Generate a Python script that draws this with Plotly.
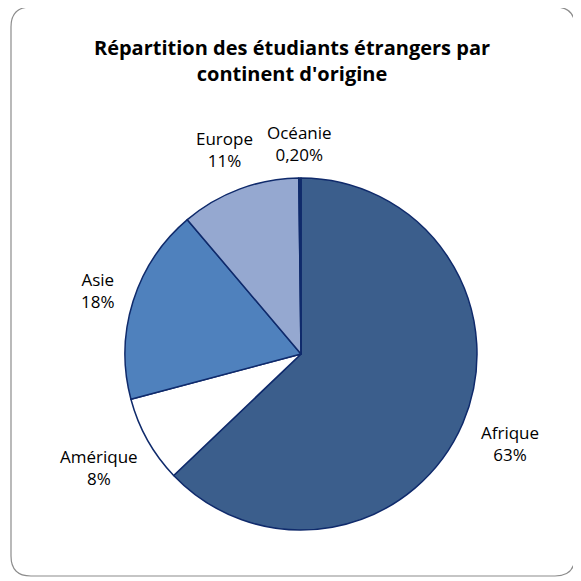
import math
import plotly.graph_objects as go

# the page body has an 8px margin, so the figure is drawn a bit smaller
OFF = 8
W = H = 573

continents = ["Afrique", "Amérique", "Asie", "Europe", "Océanie"]
shares = [63, 8, 18, 11, 0.2]
share_labels = ["63%", "8%", "18%", "11%", "0,20%"]
colors = ["#3B5E8C", "#FFFFFF", "#4F81BD", "#95A8D0", "#17306A"]

title = "Répartition des étudiants étrangers par<br>continent d'origine"
font = "'Open Sans', 'Liberation Sans', sans-serif"

# pie placement in screen pixels
cx, cy, r = 301, 354, 176
label_size = 17


def px_x(x):
    return (x - OFF) / W


def px_y(y):
    return 1 - (y - OFF) / H


def rounded_rect(x0, y0, x1, y1, rad):
    # path in paper coords for a rounded frame
    ax, bx = px_x(x0), px_x(x1)
    ay, by = px_y(y0), px_y(y1)
    rx, ry = rad / W, rad / H
    return (
        f"M {ax + rx},{ay} L {bx - rx},{ay} Q {bx},{ay} {bx},{ay - ry} "
        f"L {bx},{by + ry} Q {bx},{by} {bx - rx},{by} "
        f"L {ax + rx},{by} Q {ax},{by} {ax},{by + ry} "
        f"L {ax},{ay - ry} Q {ax},{ay} {ax + rx},{ay} Z"
    )


fig = go.Figure(
    go.Pie(
        labels=continents,
        values=shares,
        sort=False,
        direction="clockwise",
        rotation=0,
        marker=dict(colors=colors, line=dict(color="#0F2A6B", width=1.5)),
        textinfo="none",
        hoverinfo="label+percent",
        domain=dict(x=[px_x(cx - r), px_x(cx + r)], y=[px_y(cy + r), px_y(cy - r)]),
        showlegend=False,
    )
)

# data labels placed outside each slice, along its mid angle
total = sum(shares)
cum = 0
gap = 12
for name, val, lab in zip(continents, shares, share_labels):
    mid = (cum + val / 2) / total * 2 * math.pi
    cum += val
    ux, uy = math.sin(mid), -math.cos(mid)
    bw = max(len(name), len(lab)) * 0.56 * label_size
    bh = 2.6 * label_size
    dist = r + gap + abs(ux) * bw / 2 + abs(uy) * bh / 2
    fig.add_annotation(
        x=px_x(cx + dist * ux), y=px_y(cy + dist * uy), xref="paper", yref="paper",
        xanchor="center", yanchor="middle",
        text=f"{name}<br>{lab}", showarrow=False,
        font=dict(family=font, size=label_size, color="#000000"),
        align="center",
    )

fig.update_layout(
    width=W,
    height=H,
    margin=dict(l=0, r=0, t=0, b=0),
    paper_bgcolor="white",
    title=dict(
        text=title, x=px_x(292), y=px_y(55), xanchor="center", yanchor="middle",
        xref="paper", yref="paper",
        font=dict(family=font, size=20, color="#000000", weight="bold"),
    ),
    shapes=[
        dict(type="path", xref="paper", yref="paper",
             path=rounded_rect(11, 7, 575, 576, 20),
             line=dict(color="#8C8C8C", width=1.2), layer="below")
    ],
)

fig.write_html("out.html")
